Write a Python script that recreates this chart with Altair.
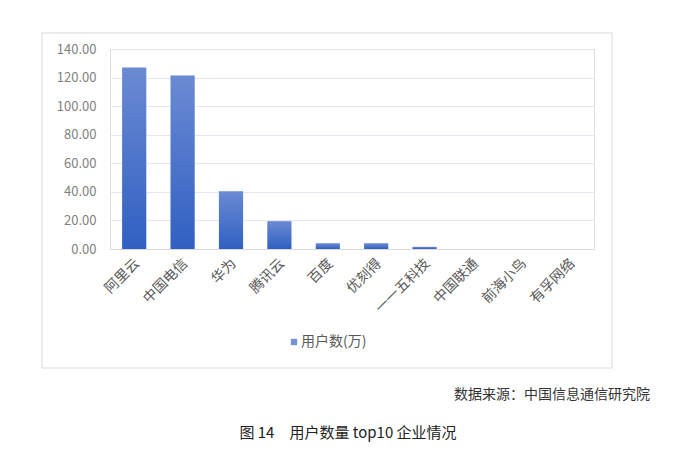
import altair as alt
import pandas as pd

companies = ["阿里云", "中国电信", "华为", "腾讯云", "百度", "优刻得", "一一五科技", "中国联通", "前海小鸟", "有孚网络"]
users = [127.0, 121.5, 40.5, 19.5, 4.0, 4.0, 1.5, 0.0, 0.0, 0.0]
y_ticks = [0, 20, 40, 60, 80, 100, 120, 140]
legend_label = "用户数(万)"
source_text = "数据来源：中国信息通信研究院"
caption_text = "图 14\u2003用户数量 top10 企业情况"

df = pd.DataFrame({"company": companies, "users": users})

W, H = 484, 200
FONT = "Noto Sans CJK SC"

gradient = alt.Gradient(
    gradient="linear",
    stops=[alt.GradientStop(color="#6b8ad3", offset=0),
           alt.GradientStop(color="#3060c2", offset=1)],
    x1=0, x2=0, y1=0, y2=1,
)

frame = alt.Chart(df).mark_rect(fillOpacity=0, stroke="#d9d9d9", strokeWidth=1).encode(
    x=alt.value(-68), x2=alt.value(502), y=alt.value(-16), y2=alt.value(319)
).transform_filter(alt.datum.company == companies[0])

bars = alt.Chart(df).mark_bar(color=gradient, clip=False).encode(
    x=alt.X("company:N", sort=companies,
            scale=alt.Scale(paddingInner=0.5, paddingOuter=0.25),
            axis=alt.Axis(title=None, labelAngle=-45, labelAlign="right", labelBaseline="middle",
                          labelFontSize=14, labelColor="#595959", labelFont=FONT,
                          ticks=False, domain=True, domainColor="#d9d9d9", labelPadding=12,
                          labelOffset=3)),
    y=alt.Y("users:Q", scale=alt.Scale(domain=[0, 140]),
            axis=alt.Axis(title=None, values=y_ticks, format=".2f", labelFontSize=13,
                          labelColor="#7f7f7f", labelFont=FONT, ticks=False, domain=False,
                          gridColor="#e3e6ee", labelPadding=14)),
)

legend_sq = alt.Chart(df).mark_square(size=40, color="#3a66c4").encode(
    x=alt.value(184), y=alt.value(293)
).transform_filter(alt.datum.company == companies[0])

legend_txt = alt.Chart(df).mark_text(align="left", baseline="middle", fontSize=14, color="#595959", font=FONT).encode(
    x=alt.value(191), y=alt.value(293), text=alt.value(legend_label)
).transform_filter(alt.datum.company == companies[0])

src = alt.Chart(df).mark_text(align="right", baseline="middle", fontSize=14, color="#333333", font=FONT).encode(
    x=alt.value(540), y=alt.value(346), text=alt.value(source_text)
).transform_filter(alt.datum.company == companies[0])

cap = alt.Chart(df).mark_text(align="center", baseline="middle", fontSize=15, color="#222222", font=FONT).encode(
    x=alt.value(238), y=alt.value(384), text=alt.value(caption_text)
).transform_filter(alt.datum.company == companies[0])

chart = alt.layer(frame, bars, legend_sq, legend_txt, src, cap).properties(
    width=W, height=H,
    autosize=alt.AutoSizeParams(type="none"),
    padding={"left": 102, "top": 41, "right": 96, "bottom": 196},
).configure_view(stroke=None).configure(background="white")

chart.save("out.html", embed_options={"renderer": "svg", "actions": False})
